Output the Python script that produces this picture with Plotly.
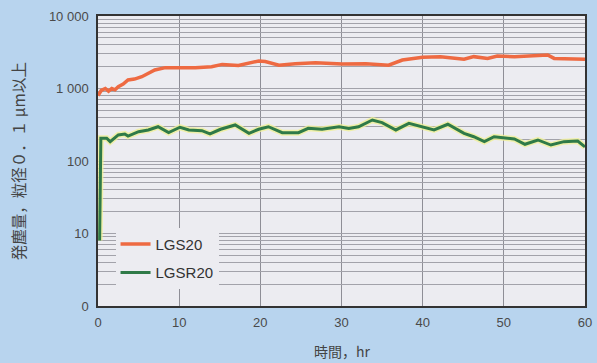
import plotly.graph_objects as go

# Data
lgs20_t = [0, 0.4, 0.9, 1.3, 1.7, 2.1, 2.5, 3.1, 3.7, 4.5, 5.4, 6.2, 7.0, 8.3, 10.1, 12, 14, 15.3, 17.3,
           19.8, 20.6, 22.3, 24.3, 26.8, 30.1, 33, 35.8, 37.5, 40, 42.2, 45.1, 46.3, 48, 49.2, 51.3,
           54.2, 55.4, 56.2, 58.3, 60]
lgs20_v = [800, 940, 1000, 920, 1000, 960, 1060, 1150, 1310, 1350, 1455, 1600, 1800, 1940, 1940, 1940, 2000, 2150, 2080,
           2400, 2350, 2100, 2200, 2270, 2180, 2200, 2100, 2470, 2700, 2750, 2530, 2750, 2600, 2800, 2750,
           2900, 2900, 2600, 2600, 2530]

lgsr20_t = [0.2, 0.35, 1.07, 1.5, 2.5, 3.3, 3.7, 5, 6.2, 7.4, 8.7, 10.1, 11.2, 12.8, 13.8, 15.1, 16.9, 18.6,
            19.8, 21.0, 22.7, 24.7, 25.9, 27.6, 29.7, 30.9, 32.1, 33.8, 35, 36.7, 38.3, 40, 41.4, 43.1,
            45.1, 46.3, 47.6, 48.8, 51.3, 52.6, 54.2, 55.8, 57.4, 59.1, 60]
lgsr20_v = [8, 206, 206, 185, 229, 236, 221, 254, 268, 297, 246, 292, 268, 262, 236, 274, 314, 241,
            274, 297, 246, 246, 282, 274, 297, 282, 297, 368, 339, 268, 330, 297, 268, 321,
            241, 216, 185, 216, 201, 170, 195, 166, 185, 189, 157]

x_ticks = [0, 10, 20, 30, 40, 50, 60]
y_decades = [1, 10, 100, 1000, 10000]
y_decade_labels = ["0", "10", "100", "1 000", "10 000"]

x_title = "時間，hr"
y_title = "発塵量，粒径０．１ μm以上"

# gridline values for every 1..9 × decade
y_grid = []
y_text = []
for i, d in enumerate(y_decades[:-1]):
    for m in range(1, 10):
        y_grid.append(d * m)
        y_text.append(y_decade_labels[i] if m == 1 else "")
y_grid.append(y_decades[-1])
y_text.append(y_decade_labels[-1])

fig = go.Figure()
# soft yellow halo under the green line
fig.add_trace(go.Scatter(x=lgsr20_t, y=lgsr20_v, mode="lines",
                         line=dict(color="rgba(240,240,150,0.8)", width=6),
                         showlegend=False, hoverinfo="skip"))
fig.add_trace(go.Scatter(x=lgs20_t, y=lgs20_v, mode="lines", name="LGS20",
                         line=dict(color="#ee6a42", width=3.5), legendgroup="a"))
fig.add_trace(go.Scatter(x=lgsr20_t, y=lgsr20_v, mode="lines", name="LGSR20",
                         line=dict(color="#2f7a48", width=3), legendgroup="b"))

cjk = "Noto Sans CJK JP, sans-serif"
fig.update_layout(
    width=597, height=363,
    margin=dict(l=98, r=12, t=16, b=57, autoexpand=False),
    paper_bgcolor="#b8d4ee",
    plot_bgcolor="#ececf1",
    font=dict(family="Liberation Sans, Arial, sans-serif", color="#4a4a4a", size=13),
    legend=dict(x=0.036, y=0.27, xanchor="left", yanchor="top",
                bgcolor="#ececf1", borderwidth=0,
                font=dict(size=15, color="#333333"),
                tracegroupgap=6),
    xaxis=dict(range=[0, 60], tickvals=x_ticks, ticks="", showgrid=True, automargin=False,
               gridcolor="#8e8e96", gridwidth=1, zeroline=False,
               showline=True, linecolor="#333333", linewidth=1.5, mirror=True,
               ticklabelstandoff=4, tickfont=dict(size=13)),
    yaxis=dict(type="log", range=[0, 4], tickvals=y_grid, ticktext=y_text, ticks="", automargin=False,
               showgrid=True, gridcolor="#a2a2aa", gridwidth=1, zeroline=False,
               showline=True, linecolor="#333333", linewidth=1.5, mirror=True,
               ticklabelstandoff=5, tickfont=dict(size=13)),
    annotations=[
        dict(text=x_title, xref="paper", yref="paper", x=0.5, y=-0.155, xanchor="center", yanchor="middle",
             showarrow=False, font=dict(family=cjk, size=14, color="#444444")),
        dict(text=y_title, xref="paper", yref="paper", x=-0.164, y=0.5, xanchor="center", yanchor="middle",
             textangle=-90, showarrow=False, font=dict(family=cjk, size=15.5, color="#444444")),
    ],
)

fig.write_html(
    "out.html",
    config={"displayModeBar": False},
    post_script="document.body.style.margin='0';document.body.style.overflow='hidden';"
                "document.body.style.background='#b8d4ee';",
)
